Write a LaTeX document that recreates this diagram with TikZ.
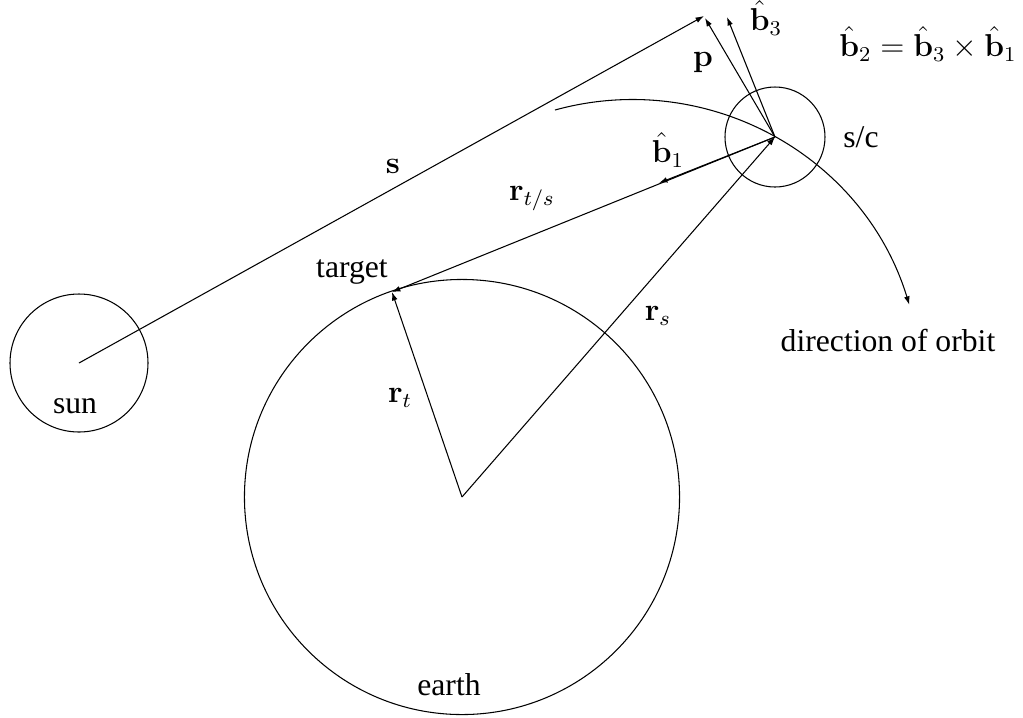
\documentclass[tikz,border=0pt,12pt]{standalone}
\usepackage[no-math]{fontspec}
\setmainfont{Liberation Serif}
\usetikzlibrary{arrows.meta}

\begin{document}
\begin{tikzpicture}[
  x=0.379pt,y=-0.379pt,
  body/.style={draw,circle,inner sep=0pt},
  vec/.style={-{Latex[length=3.2pt,width=2.2pt]},thin},
  lbl/.style={inner sep=1pt}
]
\useasboundingbox (0,0) rectangle (1023,717);

\node[body,minimum size=52.3pt] (sun) at (79,363) {};
\node[body,minimum size=164.9pt] (earth) at (462,497) {};
\node[body,minimum size=37.9pt] (sc) at (775,137) {};

\coordinate (target) at (392,292);
\coordinate (stip) at (704,16);
\coordinate (ptip) at (705,18);
\coordinate (bthree) at (727,17);
\coordinate (bone) at (659,183);
\coordinate (orbit) at (555,110);

\draw[vec] (sun.center) -- (stip);
\draw[vec] (sc.center) -- (ptip);
\draw[vec] (sc.center) -- (bthree);
\draw[vec] (sc.center) -- (bone);
\draw[vec] (sc.center) -- (target);
\draw[vec] (earth.center) -- (target);
\draw[vec] (earth.center) -- (sc.center);
\draw[vec] (orbit) arc[start angle=-105.4,end angle=-17,radius=290];

\node[lbl] (sunlbl) at (75,406) {sun};
\node[lbl] (earthlbl) at (449,685) {earth};
\node[lbl] (targetlbl) at (352,272) {target};
\node[lbl] (sclbl) at (861,137) {s/c};
\node[lbl] (orbitlbl) at (888,340) {direction of orbit};
\node[lbl] (cross) at (928,44) {$\hat{\mathbf{b}}_2=\hat{\mathbf{b}}_3\times\hat{\mathbf{b}}_1$};
\node[lbl] (slbl) at (393,166) {$\mathbf{s}$};
\node[lbl] (plbl) at (703,63) {$\mathbf{p}$};
\node[lbl] (bthreelbl) at (766,18) {$\hat{\mathbf{b}}_3$};
\node[lbl] (bonelbl) at (668,150) {$\hat{\mathbf{b}}_1$};
\node[lbl] (rtslbl) at (532,199) {$\mathbf{r}_{t/s}$};
\node[lbl] (rslbl) at (658,316) {$\mathbf{r}_s$};
\node[lbl] (rtlbl) at (400,398) {$\mathbf{r}_t$};
\end{tikzpicture}
\end{document}
